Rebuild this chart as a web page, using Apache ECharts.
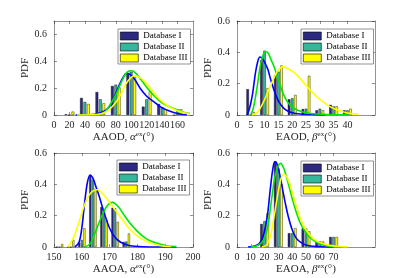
<!DOCTYPE html>
<html><head><meta charset="utf-8">
<script src="https://cdn.jsdelivr.net/npm/echarts@6/dist/echarts.min.js"></script>
<style>html,body{margin:0;padding:0;background:#fff}#c{width:415px;height:278px}</style>
</head><body><div id="c"></div>
<script>
// ---------- DATA ----------
const seriesNames = ['Database I', 'Database II', 'Database III'];
const yTicks = [0, 0.2, 0.4, 0.6];

// AAOD
const aaodBins = [20, 40, 60, 80, 100, 120, 140, 160];
const aaodDb1 = [0.005, 0.127, 0.171, 0.216, 0.305, 0.062, 0.082, 0];
const aaodDb2 = [0, 0.097, 0.117, 0.226, 0.322, 0.117, 0.057, 0.042];
const aaodDb3 = [0.025, 0.082, 0.087, 0.205, 0.285, 0.176, 0.042, 0.042];
const aaodFit1 = [[28,0],[45,0.002],[55,0.008],[62,0.02],[70,0.05],[75,0.095],[80,0.16],[85,0.23],[90,0.285],[94,0.31],[98,0.305],[104,0.27],[112,0.195],[120,0.14],[129,0.1],[138,0.06],[147,0.035],[155,0.018],[163,0.008],[172,0.002]];
const aaodFit2 = [[30,0],[50,0.002],[60,0.008],[67,0.03],[73,0.08],[80,0.15],[86,0.23],[92,0.3],[97,0.328],[101,0.33],[106,0.31],[113,0.26],[121,0.2],[130,0.14],[140,0.09],[150,0.06],[160,0.037],[168,0.02],[176,0.01]];
const aaodFit3 = [[30,0],[50,0.002],[60,0.008],[68,0.025],[75,0.06],[82,0.11],[88,0.17],[93,0.23],[99,0.275],[105,0.292],[111,0.28],[118,0.245],[125,0.2],[133,0.14],[142,0.09],[151,0.055],[160,0.032],[168,0.017],[176,0.008]];
const aaodTicks = [0, 20, 40, 60, 80, 100, 120, 140, 160];

// EAOD
const eaodBins = [5, 10, 15, 20, 25, 30, 35, 40];
const eaodDb1 = [0.165, 0.35, 0.255, 0.1, 0.038, 0.03, 0.065, 0.03];
const eaodDb2 = [0.004, 0.41, 0.277, 0.107, 0.04, 0.04, 0.055, 0.03];
const eaodDb3 = [0.017, 0.171, 0.316, 0.128, 0.25, 0.03, 0.055, 0.04];
const eaodFit1 = [[3.6,0],[4.5,0.04],[5.5,0.12],[6.7,0.27],[7.5,0.34],[8.3,0.37],[9.2,0.36],[10.2,0.33],[11.2,0.29],[12.3,0.22],[13.4,0.16],[14.6,0.105],[15.8,0.067],[17.5,0.035],[19.5,0.018],[22,0.008],[26,0.003],[32,0.001]];
const eaodFit2 = [[5,0],[6,0.05],[7.3,0.18],[8.3,0.3],[9.2,0.37],[10.3,0.405],[11.3,0.395],[12.4,0.35],[13.4,0.31],[14.6,0.245],[15.8,0.18],[17,0.125],[18.2,0.086],[20,0.05],[22,0.03],[25,0.014],[29,0.006],[34,0.002],[40,0.001]];
const eaodFit3 = [[5.5,0],[7.5,0.02],[9.5,0.08],[11.5,0.16],[12.5,0.2],[14,0.26],[15.2,0.29],[16.5,0.307],[18,0.3],[20,0.28],[22,0.25],[24,0.21],[26.5,0.16],[29,0.115],[31.5,0.08],[34,0.05],[37,0.028],[40,0.013],[44,0.004]];
const eaodTicks = [0, 5, 10, 15, 20, 25, 30, 35, 40];

// AAOA
const aaoaBins = [152, 156, 160, 164, 168, 172, 176];
const aaoaDb1 = [0, 0, 0.028, 0.46, 0.255, 0.25, 0.032];
const aaoaDb2 = [0, 0, 0.045, 0.43, 0.235, 0.247, 0.035];
const aaoaDb3 = [0.019, 0.045, 0.12, 0.37, 0.172, 0.16, 0.086];
const aaoaFit1 = [[157.5,0],[159,0.03],[160,0.12],[161,0.28],[162,0.41],[163,0.46],[164,0.44],[165,0.39],[166.5,0.31],[168,0.22],[170,0.12],[172,0.06],[174,0.03],[177,0.01],[182,0.002],[194,0]];
const aaoaFit2 = [[161,0],[163,0.02],[165,0.1],[167,0.19],[169,0.26],[171,0.285],[173,0.26],[175,0.21],[177,0.16],[180,0.1],[183,0.055],[186,0.03],[190,0.01],[194,0.003]];
const aaoaFit3 = [[155,0],[157,0.06],[159,0.16],[161,0.27],[163,0.34],[165.5,0.365],[168,0.33],[171,0.26],[174,0.19],[177,0.12],[180,0.07],[184,0.03],[188,0.01],[192,0.003]];
const aaoaTicks = [150, 160, 170, 180, 190, 200];

// EAOA
const eaoaBins = [20, 30, 40, 50, 60, 70];
const eaoaDb1 = [0.147, 0.545, 0.088, 0.118, 0.035, 0.064];
const eaoaDb2 = [0.165, 0.5, 0.088, 0.118, 0.035, 0.064];
const eaoaDb3 = [0.215, 0.4, 0.12, 0.1, 0.035, 0.064];
const eaoaFit1 = [[8,0],[12,0.005],[16,0.02],[19,0.07],[22,0.2],[24,0.36],[26,0.5],[27.5,0.545],[29,0.53],[31,0.46],[33,0.37],[35,0.28],[37,0.2],[40,0.11],[43,0.055],[47,0.025],[52,0.008],[60,0.002],[70,0]];
const eaoaFit2 = [[10,0],[15,0.01],[19,0.04],[22,0.12],[25,0.3],[28,0.47],[31.5,0.534],[34,0.5],[37,0.41],[40,0.31],[43,0.22],[46,0.15],[50,0.09],[55,0.045],[60,0.02],[66,0.007],[75,0.001]];
const eaoaFit3 = [[18,0],[21,0.01],[24,0.06],[27,0.2],[30,0.36],[32,0.44],[34,0.466],[37,0.43],[40,0.35],[43,0.26],[46,0.18],[50,0.11],[55,0.055],[60,0.028],[66,0.012],[72,0.005],[80,0.001]];
const eaoaTicks = [0, 10, 20, 30, 40, 50, 60, 70];

// ---------- STYLE / LAYOUT ----------
const FONT = 'Liberation Serif';
const AX = '#262626';
const barColors = ['#2c2a80', '#35b79b', '#ffff00'];
const fitColors = ['#0000ff', '#00e600', '#ffff00'];

const panels = [
  { bins: aaodBins, bars: [aaodDb1, aaodDb2, aaodDb3], fits: [aaodFit1, aaodFit2, aaodFit3], xTicks: aaodTicks,
    xMin: 0, xMax: 180, yMax: 0.7, label: 'AAOD, ', greek: 'α',
    grid: { left: 54, top: 21, width: 139, height: 94 }, barWidth: 2.75, legend: { left: 118, top: 29 } },
  { bins: eaodBins, bars: [eaodDb1, eaodDb2, eaodDb3], fits: [eaodFit1, eaodFit2, eaodFit3], xTicks: eaodTicks,
    xMin: 0, xMax: 50, yMax: 0.6, label: 'EAOD, ', greek: 'β',
    grid: { left: 237, top: 21, width: 138, height: 94 }, barWidth: 2.5, legend: { left: 301, top: 29 } },
  { bins: aaoaBins, bars: [aaoaDb1, aaoaDb2, aaoaDb3], fits: [aaoaFit1, aaoaFit2, aaoaFit3], xTicks: aaoaTicks,
    xMin: 150, xMax: 200, yMax: 0.6, label: 'AAOA, ', greek: 'α',
    grid: { left: 54, top: 153, width: 139, height: 94 }, barWidth: 2.1, legend: { left: 117, top: 160 } },
  { bins: eaoaBins, bars: [eaoaDb1, eaoaDb2, eaoaDb3], fits: [eaoaFit1, eaoaFit2, eaoaFit3], xTicks: eaoaTicks,
    xMin: 0, xMax: 100, yMax: 0.6, label: 'EAOA, ', greek: 'β',
    grid: { left: 237, top: 153, width: 138, height: 94 }, barWidth: 2.5, legend: { left: 301, top: 161 } }
];

const lineSt = { color: AX, width: 0.5 };
const grids = [], xAxes = [], yAxes = [], series = [], legends = [];

panels.forEach((p, i) => {
  grids.push(Object.assign({ containLabel: false, show: false }, p.grid));
  const common = { gridIndex: i, type: 'value', min: p.xMin, max: p.xMax, splitLine: { show: false },
    axisLine: { show: true, onZero: false, lineStyle: lineSt } };
  xAxes.push(Object.assign({}, common, {
    position: 'bottom',
    axisTick: { show: true, inside: true, length: 3, customValues: p.xTicks, lineStyle: lineSt },
    axisLabel: { customValues: p.xTicks, margin: 5, fontSize: 10, fontFamily: FONT, color: AX, hideOverlap: false,
      formatter: v => String(v) },
    name: '{n|' + p.label + '}{g|' + p.greek + '}{s|ex}{n|(°)}',
    nameLocation: 'middle', nameGap: 16,
    nameTextStyle: { fontFamily: FONT, fontSize: 11, color: AX,
      rich: { n: { fontFamily: FONT, fontSize: 11, color: AX, lineHeight: 13 },
              g: { fontFamily: FONT, fontSize: 11, fontStyle: 'italic', color: AX, lineHeight: 13 },
              s: { fontFamily: FONT, fontSize: 7, color: AX, verticalAlign: 'top', lineHeight: 8 } } }
  }));
  xAxes.push(Object.assign({}, common, {
    position: 'top',
    axisTick: { show: true, inside: true, length: 3, customValues: p.xTicks, lineStyle: lineSt },
    axisLabel: { show: false }
  }));
  const ycommon = { gridIndex: i, type: 'value', min: 0, max: p.yMax, splitLine: { show: false },
    axisLine: { show: true, onZero: false, lineStyle: lineSt } };
  yAxes.push(Object.assign({}, ycommon, {
    position: 'left',
    axisTick: { show: true, inside: true, length: 3, customValues: yTicks, lineStyle: lineSt },
    axisLabel: { customValues: yTicks, margin: 7, fontSize: 10, fontFamily: FONT, color: AX,
      formatter: v => (v === 0 ? '0' : v.toFixed(1)) },
    name: 'PDF', nameLocation: 'middle', nameGap: 19, nameRotate: 90,
    nameTextStyle: { fontFamily: FONT, fontSize: 11, color: AX }
  }));
  yAxes.push(Object.assign({}, ycommon, {
    position: 'right',
    axisTick: { show: true, inside: true, length: 3, customValues: yTicks, lineStyle: lineSt },
    axisLabel: { show: false }
  }));

  p.bars.forEach((vals, k) => {
    series.push({
      type: 'bar', name: seriesNames[k], xAxisIndex: 2 * i, yAxisIndex: 2 * i,
      data: p.bins.map((b, j) => [b, vals[j]]),
      barWidth: p.barWidth, barGap: '25%', silent: true, z: 2,
      itemStyle: { color: barColors[k], borderColor: '#000', borderWidth: 0.4 }
    });
  });
  p.fits.forEach((pts, k) => {
    series.push({
      type: 'line', name: 'fit' + i + '_' + k, xAxisIndex: 2 * i, yAxisIndex: 2 * i,
      data: pts, smooth: 0.35, symbol: 'none', showSymbol: false, silent: true, z: 3, clip: true,
      lineStyle: { color: fitColors[k], width: 1.6 }
    });
  });

  legends.push({
    data: seriesNames.map(n => ({ name: n, icon: 'rect' })), orient: 'vertical', left: p.legend.left, top: p.legend.top,
    icon: 'rect', itemWidth: 18, itemHeight: 8, itemGap: 1, padding: [2, 3, 1, 2],
    backgroundColor: '#fff', borderColor: AX, borderWidth: 0.5, borderRadius: 0,
    selectedMode: false,
    itemStyle: { borderColor: '#000', borderWidth: 0.6 },
    textStyle: { fontFamily: FONT, fontSize: 9, color: '#000', lineHeight: 10 }
  });
});

const chart = echarts.init(document.getElementById('c'), null, { renderer: 'canvas' });
chart.setOption({
  animation: false,
  backgroundColor: '#fff',
  grid: grids, xAxis: xAxes, yAxis: yAxes, legend: legends, series: series
});
</script>
</body></html>
